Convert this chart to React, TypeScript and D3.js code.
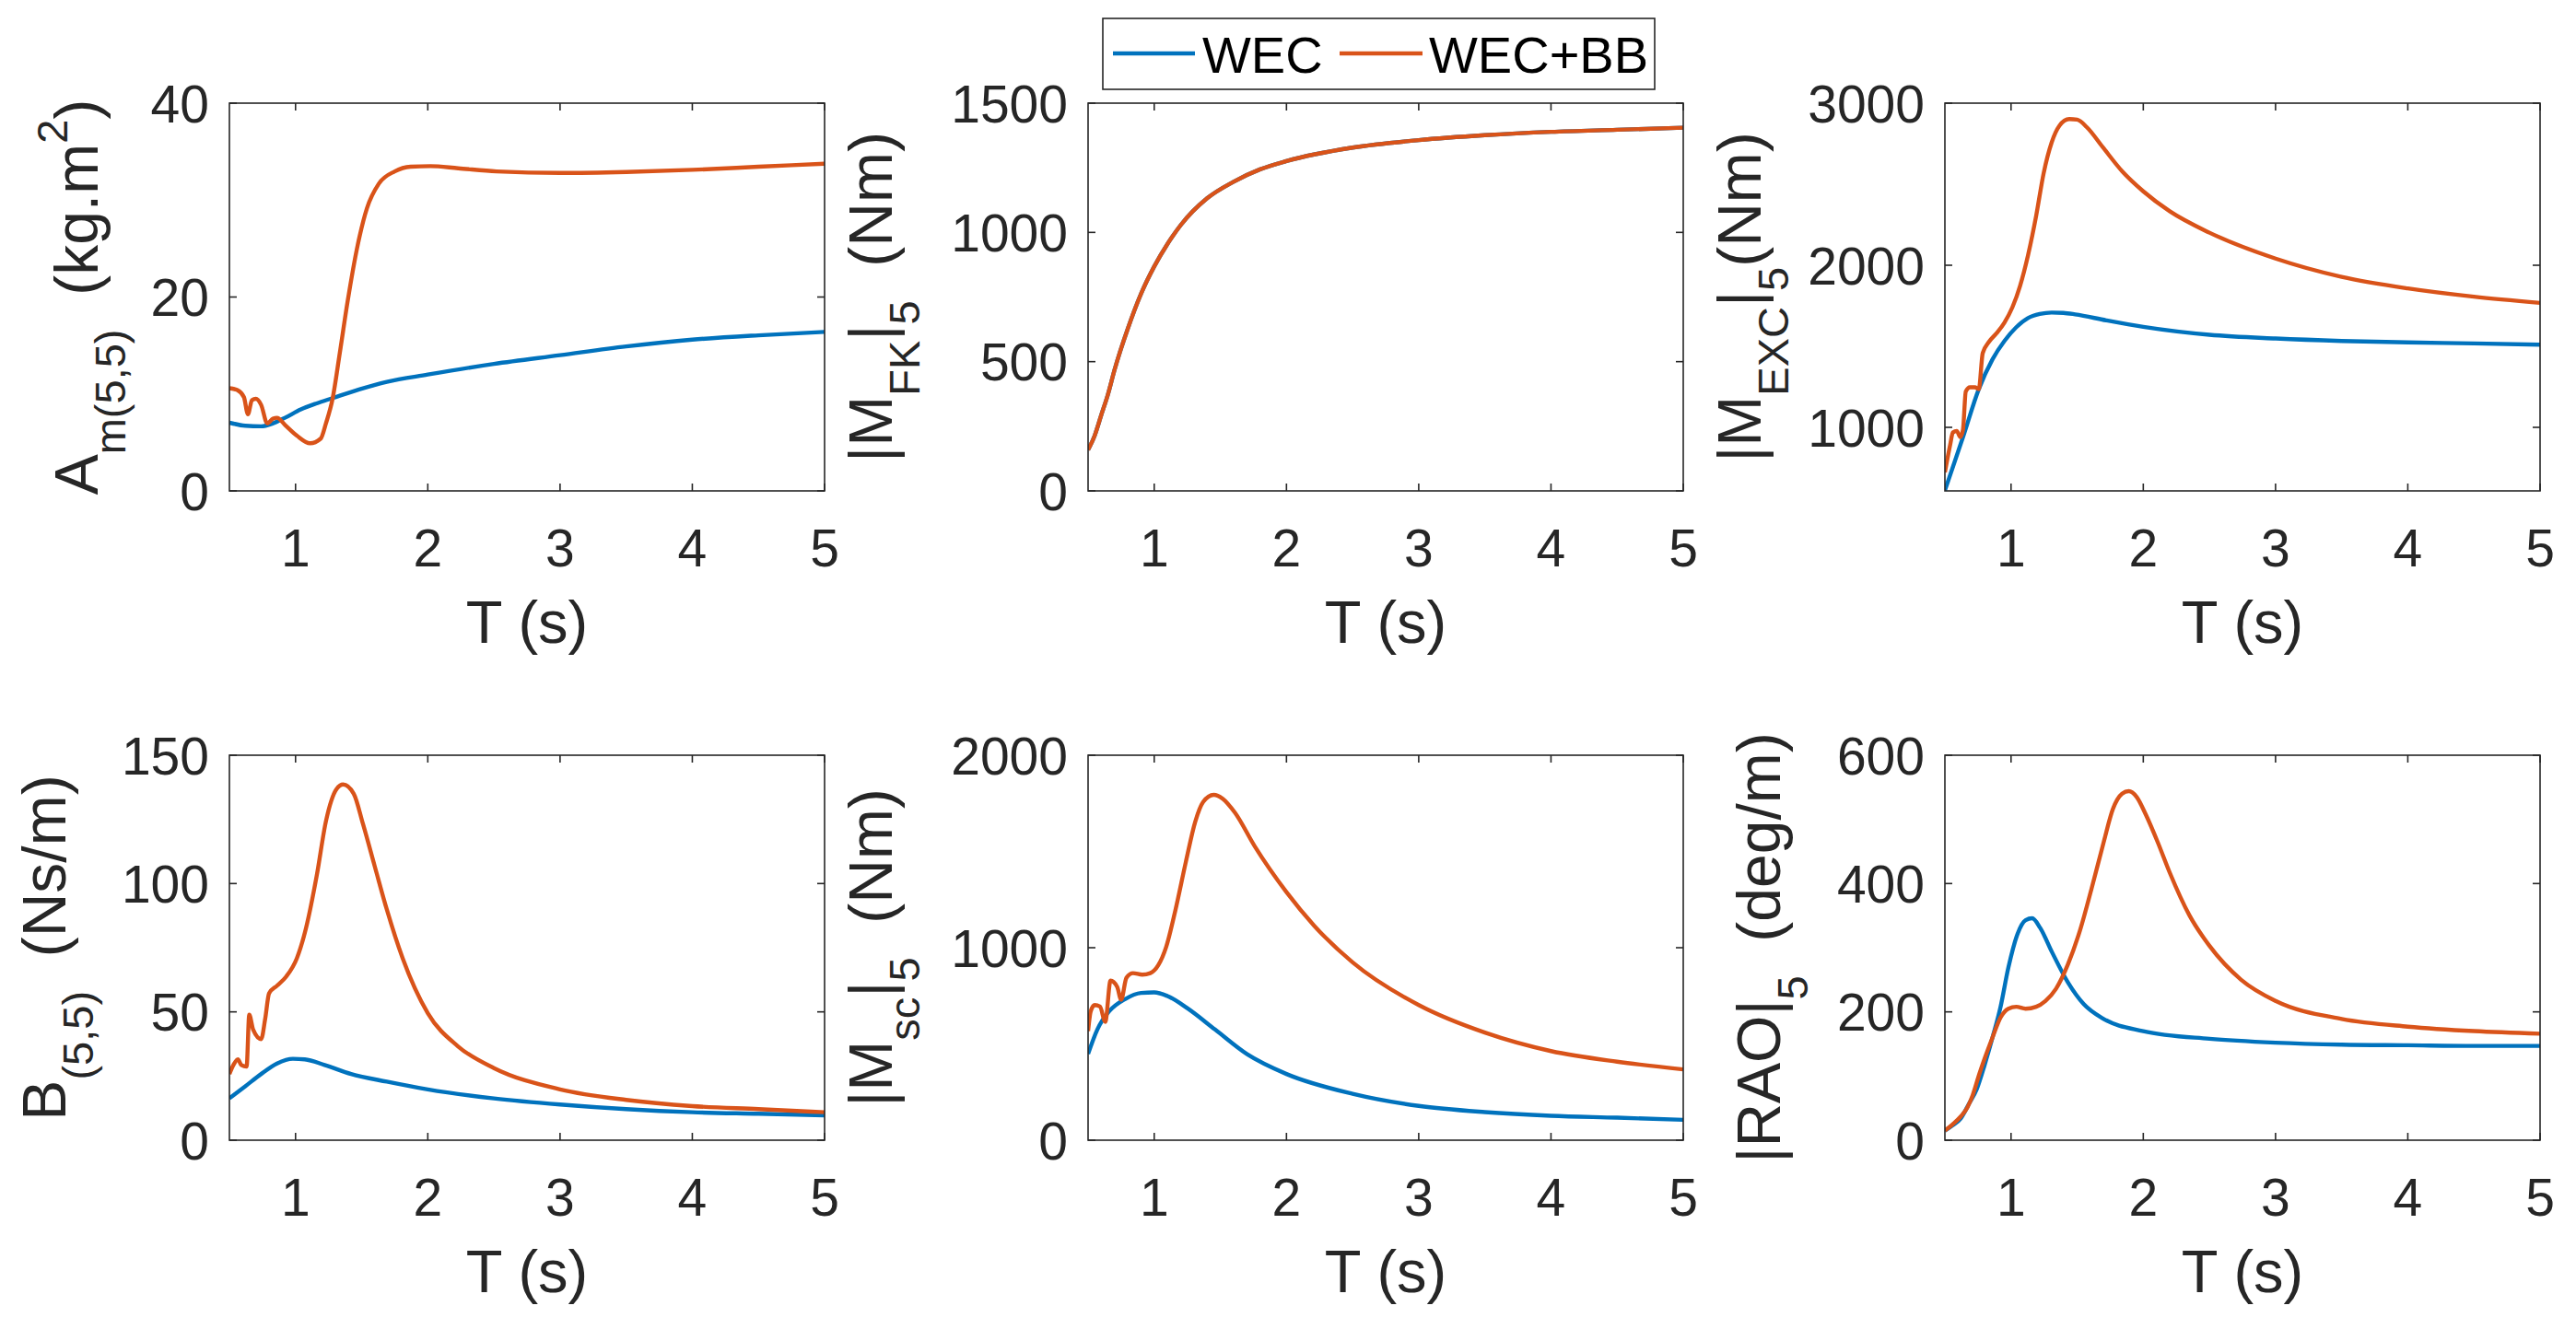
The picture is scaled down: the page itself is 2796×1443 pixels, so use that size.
import * as d3 from 'd3'

type Pt = [number, number]

// wave period axis shared by all six panels
const periodDomain: [number, number] = [0.5, 5]
const periodTicks = [1, 2, 3, 4, 5]
const seriesNames = ['WEC', 'WEC+BB']
const seriesColors = ['#0072BD', '#D95319']

// A_m(5,5) added mass
const addedMassWec: Pt[] = [
  [0.5, 7.04], [0.62, 6.72], [0.74, 6.66], [0.83, 6.97], [0.92, 7.54], [1.04, 8.4],
  [1.16, 9.03], [1.28, 9.57], [1.48, 10.46], [1.69, 11.25], [2.0, 12.0], [2.5, 13.1],
  [3.0, 14.0], [3.5, 14.9], [4.0, 15.6], [4.5, 16.05], [5.0, 16.4],
]
const addedMassWecBb: Pt[] = [
  [0.5, 10.6], [0.56, 10.4], [0.61, 9.67], [0.64, 7.9], [0.67, 9.35], [0.7, 9.5],
  [0.74, 8.87], [0.786, 6.97], [0.83, 7.45], [0.86, 7.54], [0.92, 6.81], [1.01, 5.7],
  [1.11, 4.91], [1.19, 5.39], [1.23, 6.97], [1.28, 9.5], [1.335, 14.26], [1.395, 19.65],
  [1.47, 25.36], [1.54, 29.16], [1.63, 31.7], [1.75, 32.96], [1.87, 33.44], [2.02, 33.5],
  [2.23, 33.28], [2.52, 32.96], [3.0, 32.8], [3.5, 32.9], [4.0, 33.12], [4.5, 33.44], [5.0, 33.76],
]

// |M_FK|_5 Froude-Krylov moment (both configurations coincide)
const froudeKrylov: Pt[] = [
  [0.5, 159], [0.55, 214], [0.6, 294], [0.65, 373], [0.7, 468], [0.8, 627], [0.9, 762],
  [1.0, 868], [1.1, 955], [1.2, 1028], [1.4, 1132], [1.6, 1196], [1.8, 1244], [2.0, 1276],
  [2.5, 1328], [3.0, 1357], [3.5, 1376], [4.0, 1389], [4.5, 1397], [5.0, 1405],
]

// |M_EXC|_5 excitation moment
const excitationWec: Pt[] = [
  [0.5, 610], [0.637, 940], [0.756, 1235], [0.86, 1420], [0.95, 1533], [1.04, 1618],
  [1.128, 1674], [1.217, 1699], [1.307, 1708], [1.396, 1706], [1.485, 1697], [1.72, 1660],
  [2.0, 1620], [2.5, 1571], [3.0, 1548], [3.5, 1533], [4.0, 1524], [4.5, 1518], [5.0, 1510],
]
const excitationWecBb: Pt[] = [
  [0.5, 723], [0.54, 893], [0.56, 968], [0.59, 977], [0.616, 940], [0.637, 987], [0.658, 1222],
  [0.69, 1247], [0.726, 1247], [0.756, 1235], [0.786, 1458], [0.83, 1524], [0.89, 1580],
  [0.95, 1646], [1.01, 1740], [1.068, 1872], [1.128, 2060], [1.19, 2305], [1.247, 2569],
  [1.307, 2757], [1.366, 2861], [1.44, 2902], [1.5, 2898], [1.574, 2851], [1.693, 2729],
  [1.842, 2578], [2.0, 2456], [2.2, 2333], [2.5, 2201], [3.0, 2041], [3.5, 1928], [4.0, 1857],
  [4.5, 1806], [5.0, 1768],
]

// B_(5,5) radiation damping
const dampingWec: Pt[] = [
  [0.5, 16.3], [0.62, 21.0], [0.74, 25.8], [0.86, 29.9], [0.98, 31.7], [1.07, 31.5],
  [1.22, 29.3], [1.42, 25.8], [1.69, 22.8], [2.0, 19.8], [2.5, 16.3], [3.0, 13.9],
  [3.5, 12.1], [4.0, 10.9], [4.5, 10.3], [5.0, 9.7],
]
const dampingWecBb: Pt[] = [
  [0.5, 25.8], [0.53, 29.3], [0.564, 31.5], [0.59, 29.3], [0.63, 28.7], [0.65, 48.9],
  [0.68, 43.0], [0.74, 39.4], [0.77, 47.1], [0.8, 57.2], [0.86, 60.2], [0.93, 63.8],
  [1.01, 70.9], [1.08, 82.8], [1.16, 103], [1.23, 124.3], [1.31, 136.8], [1.36, 138.6],
  [1.44, 135], [1.51, 123.2], [1.6, 106.5], [1.69, 89.9], [1.81, 70.9], [2.0, 49.5],
  [2.23, 36.5], [2.5, 28.1], [3.0, 19.8], [3.5, 15.7], [4.0, 13.3], [4.5, 12.1], [5.0, 10.9],
]

// |M_sc|_5 scattering moment
const scatteringWec: Pt[] = [
  [0.5, 448], [0.57, 575], [0.66, 670], [0.78, 733], [0.9, 765], [1.0, 768], [1.1, 749],
  [1.25, 686], [1.46, 575], [1.7, 448], [2.0, 344], [2.5, 241], [3.0, 178], [3.5, 146],
  [4.0, 127], [4.5, 117], [5.0, 106],
]
const scatteringWecBb: Pt[] = [
  [0.5, 567], [0.52, 670], [0.55, 702], [0.59, 694], [0.63, 615], [0.67, 829], [0.72, 797],
  [0.75, 730], [0.79, 844], [0.84, 868], [0.91, 860], [0.97, 868], [1.03, 908], [1.09, 1003],
  [1.16, 1194], [1.24, 1448], [1.31, 1654], [1.37, 1757], [1.45, 1794], [1.52, 1773],
  [1.61, 1702], [1.76, 1527], [2.0, 1289], [2.21, 1114], [2.5, 924], [3.0, 702], [3.5, 559],
  [4.0, 463], [4.5, 408], [5.0, 368],
]

// |RAO|_5 pitch response
const raoWec: Pt[] = [
  [0.5, 15], [0.55, 22], [0.62, 34], [0.68, 56], [0.74, 79], [0.8, 117], [0.86, 160],
  [0.92, 207], [0.98, 269], [1.05, 322], [1.11, 343], [1.16, 346], [1.22, 331], [1.31, 293],
  [1.43, 246], [1.55, 212], [1.7, 189], [2.0, 170], [2.5, 158], [3.0, 152], [3.5, 149],
  [4.0, 148], [4.5, 147], [5.0, 147],
]
const raoWecBb: Pt[] = [
  [0.5, 15], [0.56, 25], [0.62, 37], [0.67, 51], [0.71, 70], [0.76, 103], [0.8, 127],
  [0.86, 160], [0.92, 191], [0.98, 205], [1.04, 208], [1.11, 205], [1.19, 208], [1.26, 217],
  [1.34, 236], [1.43, 274], [1.52, 326], [1.61, 393], [1.7, 464], [1.77, 516], [1.84, 540],
  [1.89, 544], [1.95, 535], [2.02, 507], [2.11, 464], [2.2, 417], [2.35, 350], [2.5, 303],
  [2.74, 250], [3.0, 217], [3.5, 189], [4.0, 177], [4.5, 170], [5.0, 166],
]

type Seg = { t: string; s?: 'sub' | 'sup' }

const panels: { label: Seg[]; yDomain: [number, number]; yTicks: number[]; series: Pt[][] }[] = [
  {
    label: [{ t: 'A' }, { t: 'm(5,5)', s: 'sub' }, { t: ' \u00a0(kg.m' }, { t: '2', s: 'sup' }, { t: ')' }],
    yDomain: [0, 40], yTicks: [0, 20, 40], series: [addedMassWec, addedMassWecBb],
  },
  {
    label: [{ t: '|M' }, { t: 'FK', s: 'sub' }, { t: '|' }, { t: '5', s: 'sub' }, { t: ' \u00a0(Nm)' }],
    yDomain: [0, 1500], yTicks: [0, 500, 1000, 1500], series: [froudeKrylov, froudeKrylov],
  },
  {
    label: [{ t: '|M' }, { t: 'EXC', s: 'sub' }, { t: '|' }, { t: '5', s: 'sub' }, { t: '(Nm)' }],
    yDomain: [608, 3000], yTicks: [1000, 2000, 3000], series: [excitationWec, excitationWecBb],
  },
  {
    label: [{ t: 'B' }, { t: '(5,5)', s: 'sub' }, { t: ' \u00a0(Ns/m)' }],
    yDomain: [0, 150], yTicks: [0, 50, 100, 150], series: [dampingWec, dampingWecBb],
  },
  {
    label: [{ t: '|M' }, { t: 'sc', s: 'sub' }, { t: '|' }, { t: '5', s: 'sub' }, { t: ' \u00a0(Nm)' }],
    yDomain: [0, 2000], yTicks: [0, 1000, 2000], series: [scatteringWec, scatteringWecBb],
  },
  {
    label: [{ t: '|RAO|' }, { t: '5', s: 'sub' }, { t: ' \u00a0(deg/m)' }],
    yDomain: [0, 600], yTicks: [0, 200, 400, 600], series: [raoWec, raoWecBb],
  },
]

const W = 2796
const H = 1443
const FONT = '"Liberation Sans", Arial, Helvetica, sans-serif'
const AXIS = '#262626'
const colLeft = [249, 1181, 2111]
const boxW = 646
const rowTop = [112, 820]
const rowH = [421, 418]
const labelGap = [143, 213, 200, 178, 213, 179]

const SUB = 30
const SUP = -33

function YLabel({ segs, x, y }: { segs: Seg[]; x: number; y: number }) {
  let cur = 0
  return (
    <text
      transform={`translate(${x},${y}) rotate(-90)`}
      textAnchor="middle"
      fontSize={66}
      fill={AXIS}
      fontFamily={FONT}
    >
      {segs.map((s, i) => {
        const target = s.s === 'sub' ? SUB : s.s === 'sup' ? SUP : 0
        const dy = target - cur
        cur = target
        return (
          <tspan key={i} dy={dy} fontSize={s.s ? 47 : 66}>
            {s.t}
          </tspan>
        )
      })}
    </text>
  )
}

function Panel({ idx }: { idx: number }) {
  const p = panels[idx]
  const left = colLeft[idx % 3]
  const row = Math.floor(idx / 3)
  const top = rowTop[row]
  const h = rowH[row]
  const x = d3.scaleLinear().domain(periodDomain).range([left, left + boxW])
  const y = d3.scaleLinear().domain(p.yDomain).range([top + h, top])
  const line = d3
    .line<Pt>()
    .x((d) => x(d[0]))
    .y((d) => y(d[1]))
    .curve(d3.curveMonotoneX)
  const tick = 8
  const clipId = `clip-${idx}`

  return (
    <g>
      <clipPath id={clipId}>
        <rect x={left} y={top - 2} width={boxW} height={h + 4} />
      </clipPath>
      <g clipPath={`url(#${clipId})`}>
        {p.series.map((s, i) => (
          <path key={i} d={line(s) || ''} fill="none" stroke={seriesColors[i]} strokeWidth={4.4} strokeLinejoin="round" />
        ))}
      </g>
      <rect x={left} y={top} width={boxW} height={h} fill="none" stroke={AXIS} strokeWidth={1.6} />
      {periodTicks.map((t) => (
        <g key={`x${t}`}>
          <line x1={x(t)} x2={x(t)} y1={top + h} y2={top + h - tick} stroke={AXIS} strokeWidth={1.6} />
          <line x1={x(t)} x2={x(t)} y1={top} y2={top + tick} stroke={AXIS} strokeWidth={1.6} />
          <text x={x(t)} y={top + h + 82} textAnchor="middle" fontSize={57} fill={AXIS} fontFamily={FONT}>
            {t}
          </text>
        </g>
      ))}
      {p.yTicks.map((t) => (
        <g key={`y${t}`}>
          <line x1={left} x2={left + tick} y1={y(t)} y2={y(t)} stroke={AXIS} strokeWidth={1.6} />
          <line x1={left + boxW} x2={left + boxW - tick} y1={y(t)} y2={y(t)} stroke={AXIS} strokeWidth={1.6} />
          <text x={left - 22} y={y(t)} dy="0.36em" textAnchor="end" fontSize={57} fill={AXIS} fontFamily={FONT}>
            {t}
          </text>
        </g>
      ))}
      <text x={left + boxW / 2} y={top + h + 165} textAnchor="middle" fontSize={65} fill={AXIS} fontFamily={FONT}>
        T (s)
      </text>
      <YLabel segs={p.label} x={left - labelGap[idx]} y={top + h / 2} />
    </g>
  )
}

function Legend() {
  const lx = 1197
  const ly = 20
  const items = [
    { x1: 1208, x2: 1297, tx: 1305 },
    { x1: 1454, x2: 1544, tx: 1551 },
  ]
  return (
    <g>
      <rect x={lx} y={ly} width={599} height={77} fill="#fff" stroke={AXIS} strokeWidth={1.6} />
      {items.map((it, i) => (
        <g key={i}>
          <line x1={it.x1} x2={it.x2} y1={58} y2={58} stroke={seriesColors[i]} strokeWidth={4.4} />
          <text x={it.tx} y={79} fontSize={56} fill="#000" fontFamily={FONT}>
            {seriesNames[i]}
          </text>
        </g>
      ))}
    </g>
  )
}

export default function App() {
  return (
    <svg
      width={W}
      height={H}
      viewBox={`0 0 ${W} ${H}`}
      style={{ position: 'absolute', left: 0, top: 0, background: '#fff' }}
    >
      <rect width={W} height={H} fill="#fff" />
      {panels.map((_, i) => (
        <Panel key={i} idx={i} />
      ))}
      <Legend />
    </svg>
  )
}
